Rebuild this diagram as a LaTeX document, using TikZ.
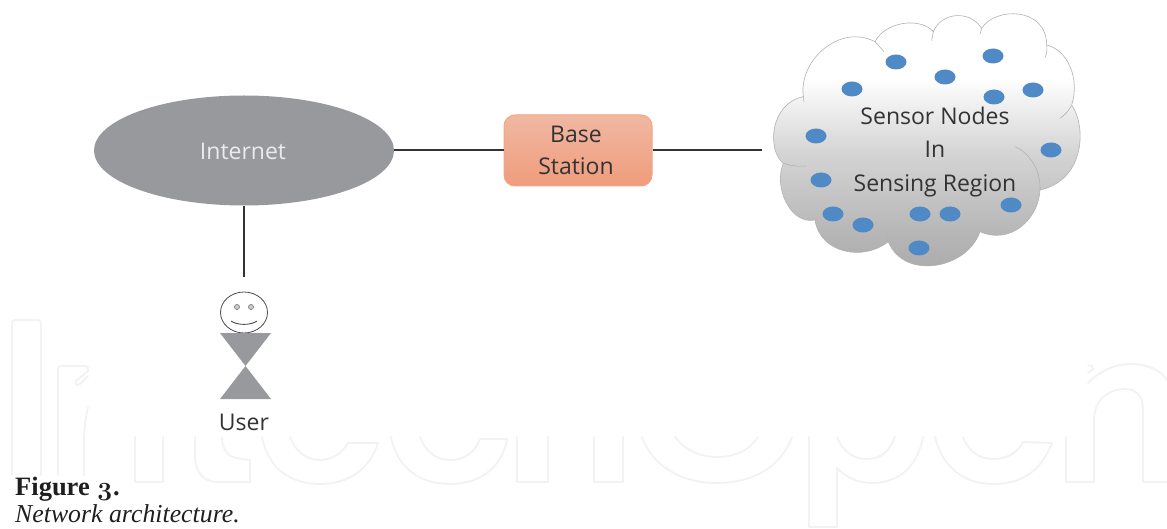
\documentclass[tikz,border=0pt]{standalone}
\usepackage{fontspec}
\setmainfont{Open Sans}
\newfontfamily\capfont{Liberation Serif}
\newfontfamily\oldfig[Numbers=OldStyle]{Latin Modern Roman}
\usetikzlibrary{shapes.geometric}
\definecolor{wm}{HTML}{F1F2F2}
\definecolor{inkt}{HTML}{333335}
\definecolor{dotblue}{HTML}{4F8AC6}
\definecolor{greyfill}{HTML}{98999C}
\definecolor{basetop}{HTML}{F0B8A2}
\definecolor{basebot}{HTML}{F09C7C}
\definecolor{baseline}{HTML}{F2A585}
\pgfdeclareverticalshading{cloudsh}{100bp}{
  color(0bp)=(black!34);
  color(25bp)=(black!34);
  color(33bp)=(black!29);
  color(48bp)=(black!17);
  color(62bp)=(white);
  color(100bp)=(white)}
\tikzset{
  x=1pt,y=-1pt,
  wmline/.style={draw=wm,line width=1.8pt,line join=round,line cap=round},
  link/.style={draw=black!80,line width=2pt},
  lab/.style={text=inkt,font=\fontsize{23}{33.5}\selectfont,align=center,inner sep=0pt},
  sensor/.style={ellipse,fill=dotblue,minimum width=21pt,minimum height=15pt,inner sep=0pt},
  fold/.style={draw=black!30,line width=0.6pt},
}
\begin{document}
\begin{tikzpicture}
\useasboundingbox (0,0) rectangle (1167,529);
% watermark
\draw[wmline] (12,475) -- (12,324) .. controls (12,321) and (13,320) .. (15,320) -- (38,320) .. controls (40,320) and (41,321) .. (41,324) -- (41,475);
\draw[wmline] (58,475) -- (58,369) .. controls (58,367) and (59,366) .. (61,366) -- (86,366) .. controls (88,366) and (89,369) .. (88,371) -- (76,381) .. controls (74,384) and (77,386) .. (80,384) -- (88,376);
\draw[wmline] (88,407) .. controls (85,420) and (84,430) .. (84,445) -- (84,475);
\draw[wmline] (135,437) -- (135,482) -- (163,482) -- (163,437);
\draw[wmline] (195,437) -- (195,455) .. controls (195,472) and (203,482) .. (218,482) -- (250,482) -- (250,460) -- (236,458) .. controls (226,456) and (222,447) .. (222,437);
\draw[wmline] (262,437) .. controls (268,468) and (290,484) .. (320,484) .. controls (350,484) and (370,468) .. (378,443) -- (348,443) .. controls (342,453) and (332,460) .. (320,460) .. controls (305,460) and (295,450) .. (290,437);
\draw[wmline] (391,437) .. controls (397,468) and (420,484) .. (450,484) .. controls (482,484) and (503,465) .. (507,439) -- (480,439) .. controls (475,452) and (465,460) .. (450,460) .. controls (435,460) and (425,450) .. (420,437);
\draw[wmline] (517,437) -- (517,482) -- (548,482) -- (548,437);
\draw[wmline] (594,437) -- (594,482) -- (623,482) -- (623,437);
\draw[wmline] (642,437) .. controls (652,465) and (680,483) .. (717,483) .. controls (755,483) and (782,465) .. (792,437);
\draw[wmline] (675,437) .. controls (685,450) and (700,457) .. (717,457) .. controls (735,457) and (750,450) .. (758,437);
\draw[wmline] (809,437) -- (809,527) -- (837,527) -- (837,468) .. controls (845,477) and (858,483) .. (872,483) .. controls (900,483) and (918,465) .. (923,437);
\draw[wmline] (837,437) .. controls (842,450) and (852,459) .. (867,459) .. controls (882,459) and (890,450) .. (895,437);
\draw[wmline] (935,437) .. controls (942,466) and (963,484) .. (993,484) .. controls (1025,484) and (1042,468) .. (1052,443) -- (1023,442) .. controls (1017,453) and (1007,459) .. (993,459) .. controls (978,459) and (968,450) .. (963,437);
\draw[wmline] (1066,437) -- (1066,482) -- (1094,482) -- (1094,420) .. controls (1094,400) and (1108,389) .. (1125,389) .. controls (1138,389) and (1143,398) .. (1143,410) -- (1143,482) -- (1167,482);
\draw[wmline] (1088,383) .. controls (1100,371) and (1115,364) .. (1130,364) .. controls (1148,364) and (1160,370) .. (1167,380);
\draw[wmline] (1088,365) -- (1092,366) -- (1093,369) -- (1088,373);
% cloud
\begin{scope}[shift={(760,0)},scale=0.33333]
\path[shading=cloudsh,draw=black!30,line width=0.6pt]
 (130,290) .. controls (115,180) and (240,70) .. (345,125)
 .. controls (375,65) and (480,50) .. (520,95)
 .. controls (545,35) and (630,30) .. (665,85)
 .. controls (705,20) and (860,20) .. (860,135)
 .. controls (925,150) and (960,240) .. (935,315)
 .. controls (980,380) and (975,540) .. (840,570)
 .. controls (835,660) and (750,735) .. (660,695)
 .. controls (620,810) and (430,840) .. (385,725)
 .. controls (310,785) and (180,760) .. (165,660)
 .. controls (90,675) and (40,560) .. (70,490)
 .. controls (20,450) and (30,310) .. (130,290) -- cycle;
\draw[fold] (345,125) -- (372,155);
\draw[fold] (520,95) -- (515,122);
\draw[fold] (665,85) -- (660,102);
\draw[fold] (860,135) .. controls (862,150) and (860,160) .. (856,172);
\draw[fold] (935,315) .. controls (928,330) and (915,345) .. (900,355);
\draw[fold] (840,570) .. controls (842,510) and (810,460) .. (765,440);
\draw[fold] (385,725) .. controls (382,710) and (380,700) .. (380,690);
\draw[fold] (70,490) .. controls (90,497) and (115,500) .. (140,498);
\draw[fold] (130,290) -- (132,305);
\end{scope}
\foreach \n/\px/\py in {s1/896/62,s2/945/77,s3/993/56,s4/852/89,s5/994/97,s6/1033/90,s7/816/136,s8/1051/150,s9/821/180,s10/833/214,s11/863/225,s12/920/214,s13/950/214,s14/1011/205,s15/919/248}
  \node[sensor] (\n) at (\px,\py) {};
\node[lab] (sensing) at (935,152) {Sensor Nodes\\In\\Sensing Region};
\coordinate (cloudend) at (762,150.5);
% nodes
\node[ellipse,fill=greyfill,minimum width=300pt,minimum height=110pt,inner sep=0pt] (internet) at (244,150.5) {};
\node[text=white!92!black,font=\fontsize{23}{28}\selectfont] (internetlab) at (243,151) {Internet};
\node[rounded corners=11pt,minimum width=148pt,minimum height=71pt,draw=baseline,line width=1pt,top color=basetop,bottom color=basebot] (base) at (578,150.5) {};
\node[lab,font=\fontsize{23}{32}\selectfont] (baselab) at (576,150.5) {Base\\Station};
\coordinate (userend) at (244,277);
\draw[link] (internet.east) -- (base.west);
\draw[link] (base.east) -- (cloudend);
\draw[link] (internet.south) -- (userend);
% user
\node[ellipse,draw=black!70,line width=0.8pt,minimum width=47pt,minimum height=41pt,inner sep=0pt] (head) at (244,312.5) {};
\node[ellipse,draw=black!50,fill=black!20,line width=0.7pt,minimum width=5pt,minimum height=5pt,inner sep=0pt] (eyeL) at (237,307) {};
\node[ellipse,draw=black!50,fill=black!20,line width=0.7pt,minimum width=5pt,minimum height=5pt,inner sep=0pt] (eyeR) at (251,307) {};
\draw[black!70,line width=0.9pt] (231,321) .. controls (237,325.5) and (251,325.5) .. (257,321);
\fill[greyfill] (220,333) -- (271,333) -- (220,399) -- (271,399) -- cycle;
\node[lab] (user) at (244,422) {User};
% caption
\node[anchor=base west,inner sep=0pt,font=\capfont\bfseries\fontsize{26.5}{26.5}\selectfont,text=black!88] (capa) at (15,495) {Figure {\oldfig\bfseries 3}.};
\node[anchor=base west,inner sep=0pt,font=\capfont\itshape\fontsize{25.8}{25.8}\selectfont,text=black!88] (capb) at (15,522) {Network architecture.};
\end{tikzpicture}
\end{document}
